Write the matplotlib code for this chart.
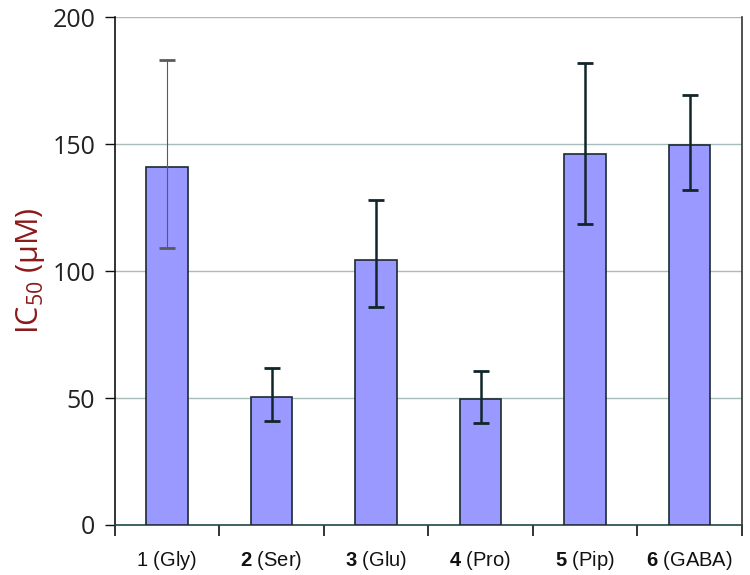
import matplotlib
matplotlib.use("Agg")
import matplotlib.pyplot as plt
import numpy as np

plt.rcParams['mathtext.fontset'] = 'custom'
plt.rcParams['mathtext.rm'] = 'Liberation Sans'
plt.rcParams['mathtext.bf'] = 'Liberation Sans:bold'

numbers = ['1', '2', '3', '4', '5', '6']
names = ['(Gly)', '(Ser)', '(Glu)', '(Pro)', '(Pip)', '(GABA)']
values = [141, 50.5, 104.5, 49.5, 146, 149.5]
err_upper = [183, 62, 128, 60.5, 182, 169.5]
err_lower = [109, 41, 86, 40, 118.5, 132]
yticks = [0, 50, 100, 150, 200]

fig = plt.figure(figsize=(7.5, 5.75), dpi=100)
ax = fig.add_axes([0.153, 0.087, 0.836, 0.883])

x = np.arange(len(values))
ax.bar(x, values, width=0.4, color='#9999ff', edgecolor='#1a2a30', linewidth=1.2, zorder=3)

vals = np.array(values)
up = np.array(err_upper) - vals
lo = vals - np.array(err_lower)
# first error bar thin
ax.errorbar(x[:1], vals[:1], yerr=[lo[:1], up[:1]], fmt='none', ecolor='#5a5a5a',
            elinewidth=0.8, capsize=5.5, capthick=2, zorder=4)
ax.errorbar(x[1:], vals[1:], yerr=[lo[1:], up[1:]], fmt='none', ecolor='#10262a',
            elinewidth=1.8, capsize=5.5, capthick=2, zorder=4)

ax.set_xlim(-0.5, len(values) - 0.5)
ax.set_ylim(0, 200)
ax.set_yticks(yticks)
ax.set_yticklabels([str(t) for t in yticks], fontfamily='Open Sans', fontsize=18, color='#222222')
ax.yaxis.grid(True, color='#a8bcbc', linewidth=1, zorder=0)
ax.set_axisbelow(True)

ax.set_xticks(x)
labels = []
for n, nm in zip(numbers, names):
    if n == '1':
        labels.append(r'$\mathrm{' + n + '}$ ' + nm)
    else:
        labels.append(r'$\mathbf{' + n + '}$ ' + nm)
ax.set_xticklabels(labels, fontfamily='Liberation Sans', fontsize=14.5, color='#111111')
ax.tick_params(axis='x', which='major', length=0, pad=17)
ax.set_xticks(np.arange(-0.5, len(values), 1.0), minor=True)
ax.tick_params(axis='x', which='minor', length=8, width=1.2, color='#111111', direction='out')
ax.tick_params(axis='y', length=7, width=1, color='#111111', direction='out', pad=7)

ax.spines['top'].set_visible(False)
ax.spines['left'].set_color('#111111')
ax.spines['left'].set_linewidth(1.2)
ax.spines['right'].set_color('#333333')
ax.spines['right'].set_linewidth(1.2)
ax.spines['bottom'].set_color('#1f4a4a')
ax.spines['bottom'].set_linewidth(1.2)

ax.set_ylabel(r'IC$_{\mathregular{50}}$ (μM)', fontfamily='Open Sans', fontsize=22,
              color='#8b1a1a')
ax.yaxis.set_label_coords(-0.108, 0.50)

fig.savefig('out.png', dpi=100)
